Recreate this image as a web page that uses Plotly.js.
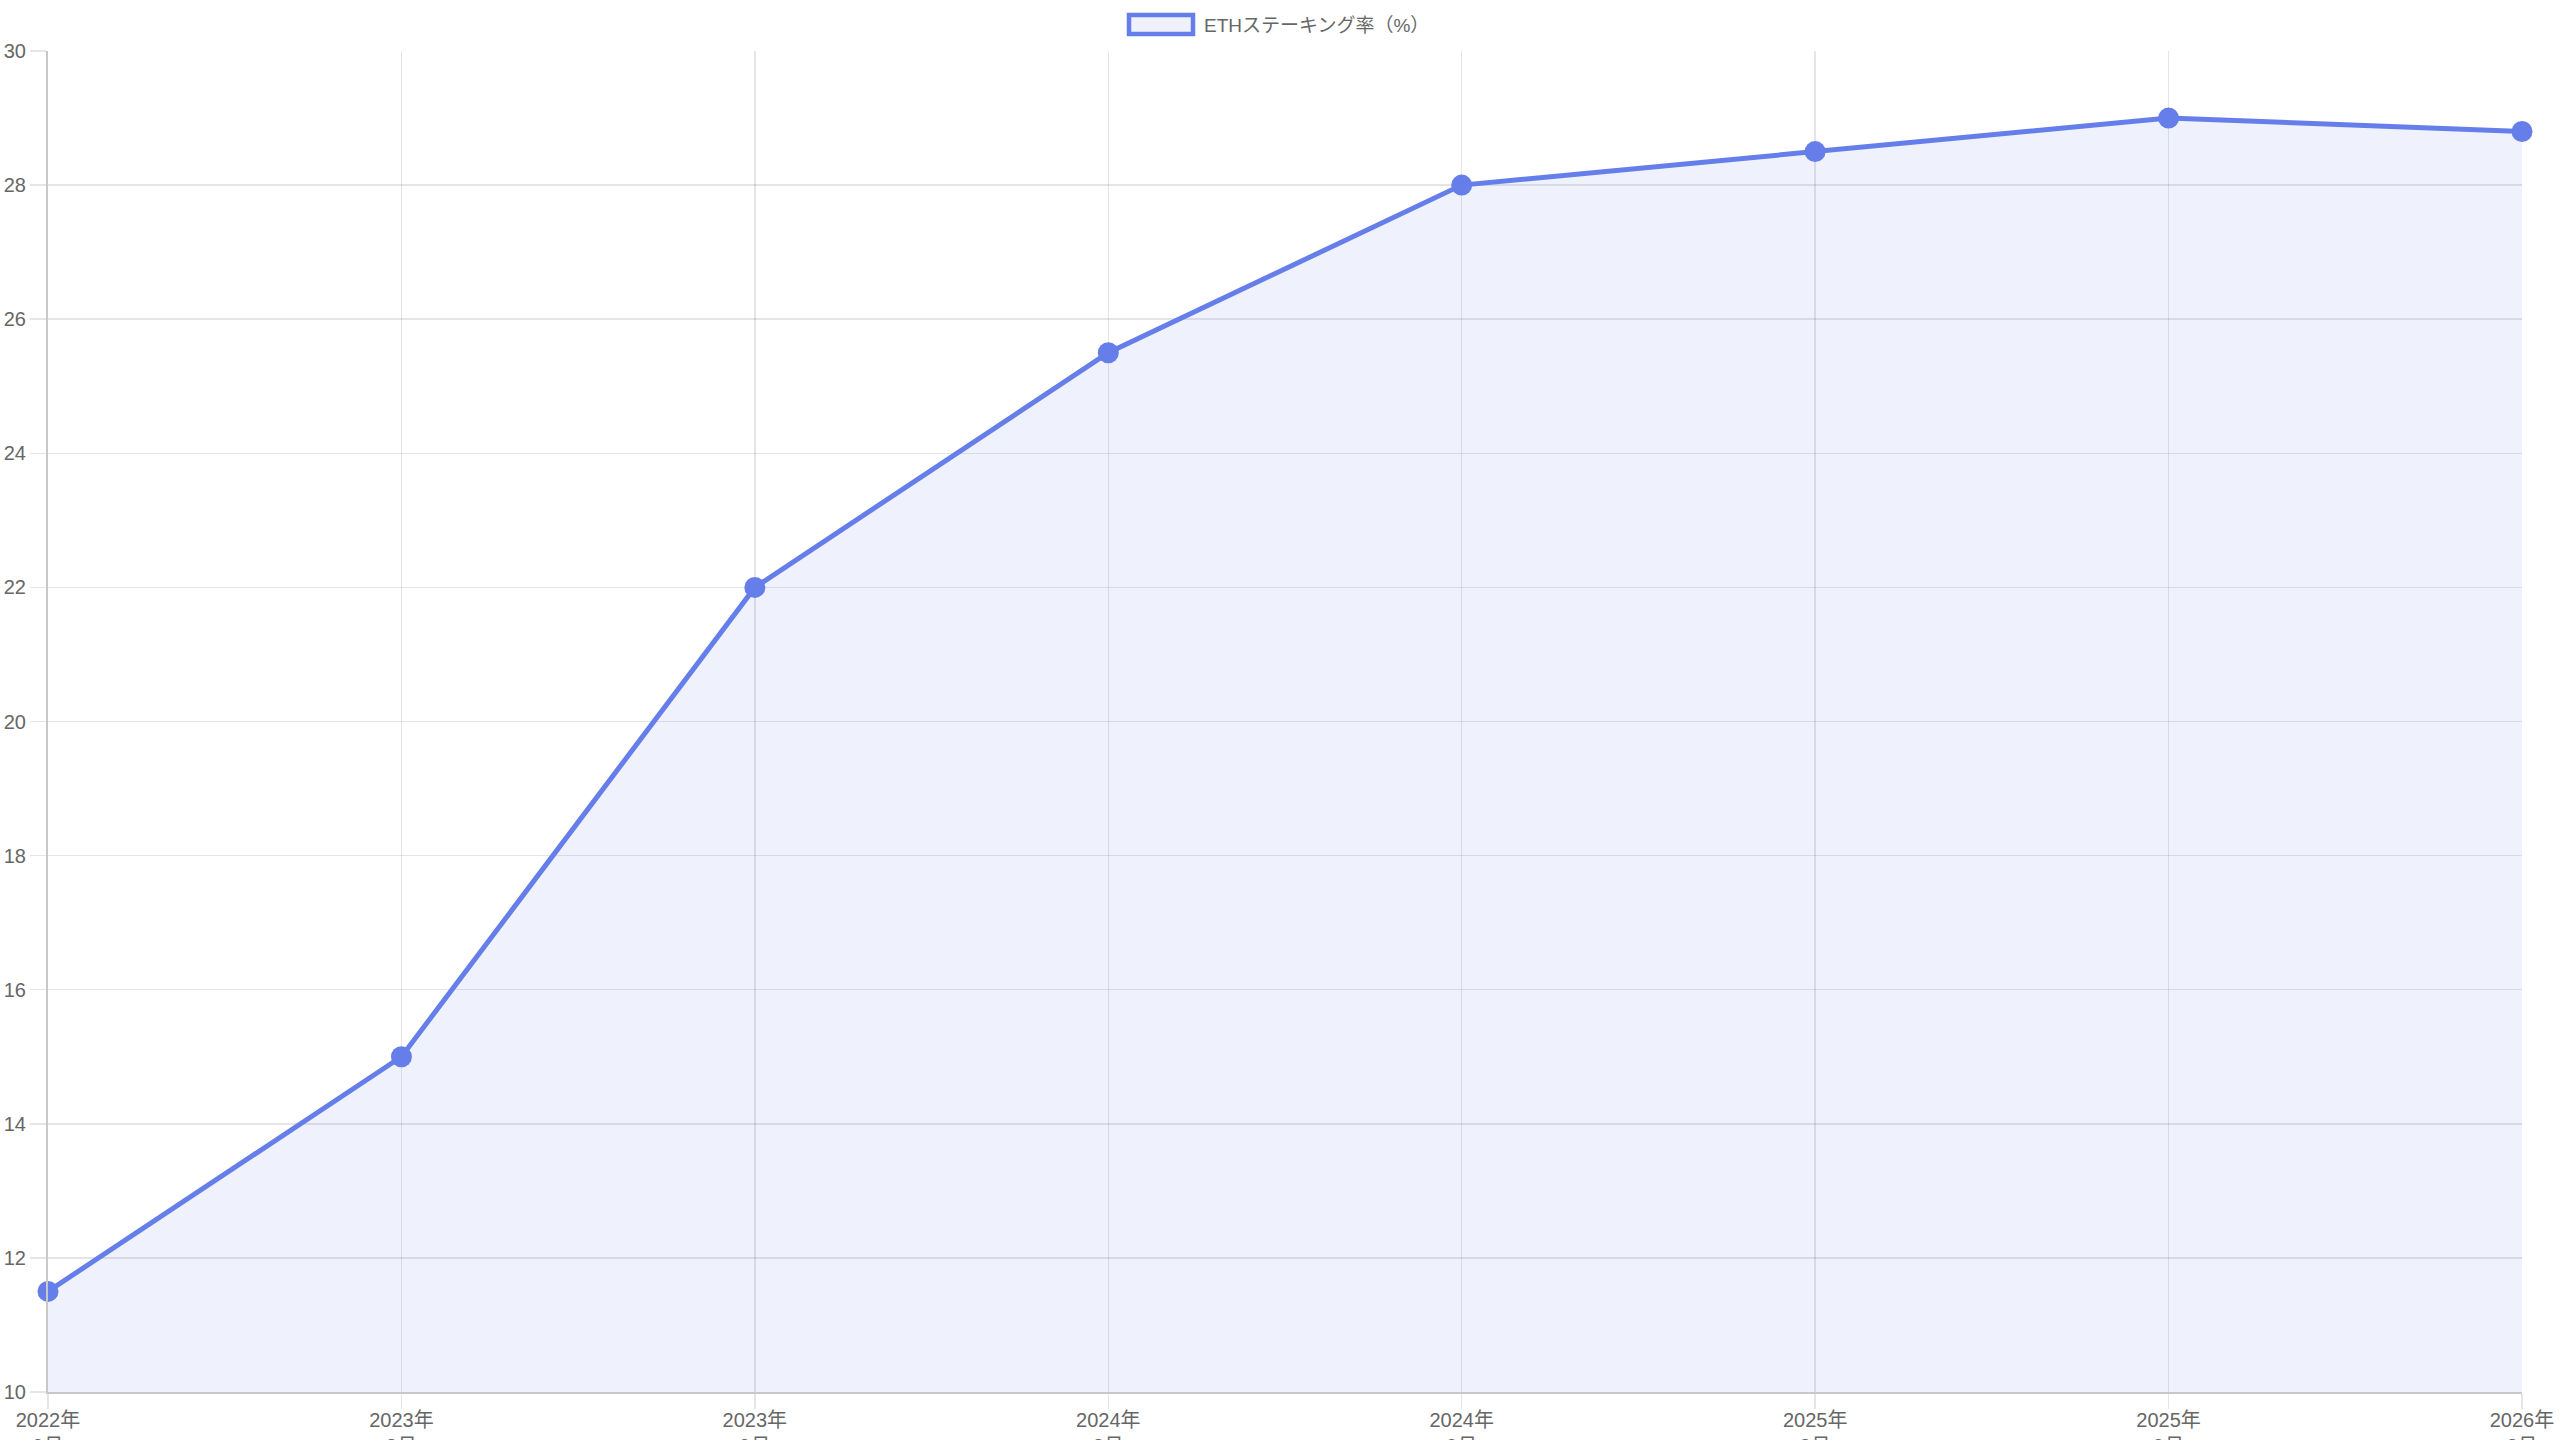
<!DOCTYPE html>
<html>
<head>
<meta charset="utf-8">
<script src="https://cdn.plot.ly/plotly-3.0.1.min.js"></script>
<style>
  html, body { margin: 0; padding: 0; background: #fff; }
  #chart { width: 2560px; height: 1440px; }
</style>
</head>
<body>
<div id="chart"></div>
<script>
const categories = ['2022年<br>9月', '2023年<br>3月', '2023年<br>9月', '2024年<br>3月', '2024年<br>9月', '2025年<br>3月', '2025年<br>9月', '2026年<br>3月'];
const stakingRate = [11.5, 15, 22, 25.5, 28, 28.5, 29, 28.8];
const seriesName = 'ETHステーキング率（%）';
const yTicks = [10, 12, 14, 16, 18, 20, 22, 24, 26, 28, 30];

const FONT = '"Liberation Sans", Arial, "Noto Sans CJK JP", sans-serif';
const LINE = 'rgb(102,126,234)';
const xIdx = categories.map((_, i) => i);

const trace = {
  x: xIdx,
  y: stakingRate,
  type: 'scatter',
  mode: 'lines+markers',
  name: seriesName,
  fill: 'tozeroy',
  fillcolor: 'rgba(102,126,234,0.1)',
  line: { color: LINE, width: 5 },
  marker: { color: LINE, size: 21 },
  showlegend: false,
  cliponaxis: false
};

const layout = {
  width: 2560, height: 1440,
  paper_bgcolor: '#fff', plot_bgcolor: '#fff',
  margin: { l: 48, r: 38, t: 51, b: 48 },
  font: { family: FONT, color: '#666', size: 20 },
  xaxis: {
    range: [0, categories.length - 1],
    tickmode: 'array', tickvals: xIdx, ticktext: categories,
    showgrid: true, gridcolor: 'rgba(0,0,0,0.1)', gridwidth: 1.5,
    showline: true, linecolor: '#c8c8c8', linewidth: 2,
    ticks: 'outside', ticklen: 15, tickcolor: 'rgba(0,0,0,0.1)', tickwidth: 1.5,
    ticklabelstandoff: -6,
    tickfont: { family: FONT, size: 20, color: '#666' },
    zeroline: false, fixedrange: true
  },
  yaxis: {
    range: [10, 30],
    tickmode: 'array', tickvals: yTicks, ticktext: yTicks.map(String),
    showgrid: true, gridcolor: 'rgba(0,0,0,0.1)', gridwidth: 1.5,
    showline: true, linecolor: '#c8c8c8', linewidth: 2,
    ticks: 'outside', ticklen: 16, tickcolor: 'rgba(0,0,0,0.1)', tickwidth: 1.5,
    tickfont: { family: FONT, size: 20, color: '#666' },
    zeroline: false, fixedrange: true
  },
  shapes: [{
    type: 'rect', xref: 'paper', yref: 'paper',
    x0: (1129 - 48) / 2474, x1: (1193 - 48) / 2474,
    y0: 1 + (51 - 34) / 1341, y1: 1 + (51 - 15) / 1341,
    line: { color: LINE, width: 4.5 },
    fillcolor: 'rgba(102,126,234,0.1)'
  }],
  annotations: [{
    xref: 'paper', yref: 'paper',
    x: (1202 - 48) / 2474, y: 1 + (51 - 25) / 1341,
    xanchor: 'left', yanchor: 'middle',
    text: seriesName, showarrow: false,
    font: { family: FONT, size: 19, color: '#666' }
  }]
};

Plotly.newPlot('chart', [trace], layout, { displayModeBar: false, staticPlot: true });
</script>
</body>
</html>
